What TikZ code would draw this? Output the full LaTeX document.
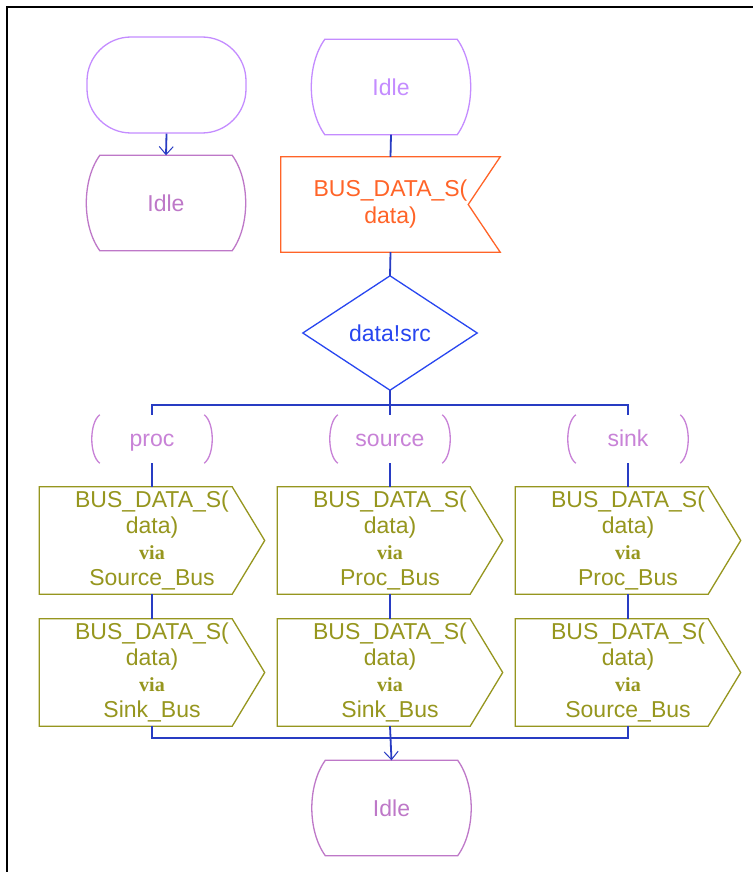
\documentclass[tikz,border=0pt]{standalone}
\usepackage{fontspec}
\setmainfont{Liberation Sans}
\newfontfamily\viafont{Liberation Serif}
\usetikzlibrary{arrows.meta}

\definecolor{startviolet}{RGB}{196,140,255}
\definecolor{statemauve}{RGB}{190,120,200}
\definecolor{answermauve}{RGB}{200,130,215}
\definecolor{inorange}{RGB}{255,100,40}
\definecolor{decblue}{RGB}{40,70,240}
\definecolor{flowblue}{RGB}{40,60,195}
\definecolor{outolive}{RGB}{150,150,30}

% SDL symbol outlines, drawn round invisible rectangular nodes
\newcommand\sdlstate[2]{%
  \draw[#2, shapeline] ([xshift=13.5pt]#1.north west) -- ([xshift=-13.5pt]#1.north east)
    .. controls ([xshift=4.5pt,yshift=-25pt]#1.north east) and ([xshift=4.5pt,yshift=25pt]#1.south east) .. ([xshift=-13.5pt]#1.south east)
    -- ([xshift=13.5pt]#1.south west)
    .. controls ([xshift=-4.5pt,yshift=25pt]#1.south west) and ([xshift=-4.5pt,yshift=-25pt]#1.north west) .. cycle;}
\newcommand\sdlinput[1]{%
  \draw[inorange, shapeline] (#1.north west) -- (#1.north east) -- ([xshift=-32pt]#1.east)
    -- (#1.south east) -- (#1.south west) -- cycle;}
\newcommand\sdloutput[1]{%
  \draw[outolive, shapeline] (#1.north west) -- ([xshift=-32.5pt]#1.north east) -- (#1.east)
    -- ([xshift=-32.5pt]#1.south east) -- (#1.south west) -- cycle;}
\newcommand\sdldecision[1]{%
  \draw[decblue, shapeline] (#1.north) -- (#1.east) -- (#1.south) -- (#1.west) -- cycle;}
\newcommand\sdlanswer[1]{%
  \draw[answermauve, shapeline] ([xshift=8pt]#1.north west)
    .. controls ([xshift=-2.7pt,yshift=-8pt]#1.north west) and ([xshift=-2.7pt,yshift=8pt]#1.south west) .. ([xshift=8pt]#1.south west);
  \draw[answermauve, shapeline] ([xshift=-8pt]#1.north east)
    .. controls ([xshift=2.7pt,yshift=-8pt]#1.north east) and ([xshift=2.7pt,yshift=8pt]#1.south east) .. ([xshift=-8pt]#1.south east);}
\newcommand\viatext{{\viafont\bfseries\fontsize{20}{26}\selectfont via}}

\tikzset{
  shapeline/.style={line width=1.3pt},
  basefont/.style={font=\fontsize{23}{27}\selectfont},
  startnode/.style={draw=startviolet, shapeline, rounded corners=44pt, minimum width=159pt, minimum height=96pt, inner sep=0pt},
  statenode/.style={basefont, minimum width=159pt, minimum height=95pt, inner sep=0pt},
  innode/.style={basefont, text=inorange, align=center, minimum width=219pt, minimum height=95pt, inner sep=0pt},
  decnode/.style={basefont, text=decblue, minimum width=174pt, minimum height=114pt, inner sep=0pt},
  ansnode/.style={basefont, text=answermauve, text height=16pt, text depth=2pt, minimum width=120pt, minimum height=48pt, inner sep=0pt},
  outnode/.style={font=\fontsize{23}{26}\selectfont, text=outolive, align=center, minimum width=225pt, minimum height=107pt, inner sep=0pt},
  flow/.style={draw=flowblue, line width=1.8pt},
  flowarrow/.style={flow, -{Straight Barb[length=8pt,width=14pt,line width=1pt]}},
}

\begin{document}
\begin{tikzpicture}[x=1pt, y=-1pt]
\useasboundingbox (0,0) rectangle (753,872);
\fill[white] (0,0) rectangle (753,872);
\draw[line width=2pt] (7,872) -- (7,7) -- (753,7);

% start and the state it enters
\node[startnode] (start) at (166.5,85) {};
\node[statenode, text=statemauve] (idleA) at (166,203) {Idle};
\sdlstate{idleA}{statemauve}

% transition from Idle
\node[statenode, text=startviolet] (idleB) at (391,87) {Idle};
\sdlstate{idleB}{startviolet}
\node[innode] (recv) at (390.5,204.5) {BUS\_DATA\_S(\\data)};
\sdlinput{recv}
\node[decnode] (dec) at (390,333) {data!src};
\sdldecision{dec}

% decision answers
\node[ansnode] (aproc) at (152,439) {proc};
\node[ansnode] (asrc) at (390,439) {source};
\node[ansnode] (asink) at (628,439) {sink};
\sdlanswer{aproc}
\sdlanswer{asrc}
\sdlanswer{asink}

% outputs
\node[outnode] (o1) at (152,540.5) {BUS\_DATA\_S(\\data)\\\viatext\\Source\_Bus};
\node[outnode] (o2) at (390,540.5) {BUS\_DATA\_S(\\data)\\\viatext\\Proc\_Bus};
\node[outnode] (o3) at (628,540.5) {BUS\_DATA\_S(\\data)\\\viatext\\Proc\_Bus};
\node[outnode] (p1) at (152,672.5) {BUS\_DATA\_S(\\data)\\\viatext\\Sink\_Bus};
\node[outnode] (p2) at (390,672.5) {BUS\_DATA\_S(\\data)\\\viatext\\Sink\_Bus};
\node[outnode] (p3) at (628,672.5) {BUS\_DATA\_S(\\data)\\\viatext\\Source\_Bus};
\foreach \n in {o1,o2,o3,p1,p2,p3} {\sdloutput{\n}}

% next state
\node[statenode, text=statemauve] (idleC) at (391.5,808) {Idle};
\sdlstate{idleC}{statemauve}

% connectors
\coordinate (split) at (390,405);
\coordinate (join) at (390,738);
\draw[flowarrow] (start.south) -- (idleA.north);
\draw[flow] (idleB.south) -- (recv.north);
\draw[flow] (recv.south) -- (dec.north);
\draw[flow] (dec.south) -- (split);
\draw[flow] (aproc.north) |- (split) -| (asink.north);
\draw[flow] (split) -- (asrc.north);
\draw[flow] (aproc.south) -- (o1.north);
\draw[flow] (asrc.south) -- (o2.north);
\draw[flow] (asink.south) -- (o3.north);
\draw[flow] (o1.south) -- (p1.north);
\draw[flow] (o2.south) -- (p2.north);
\draw[flow] (o3.south) -- (p3.north);
\draw[flow] (p1.south) |- (join) -| (p3.south);
\draw[flowarrow] (p2.south) -- (idleC.north);
\end{tikzpicture}
\end{document}
